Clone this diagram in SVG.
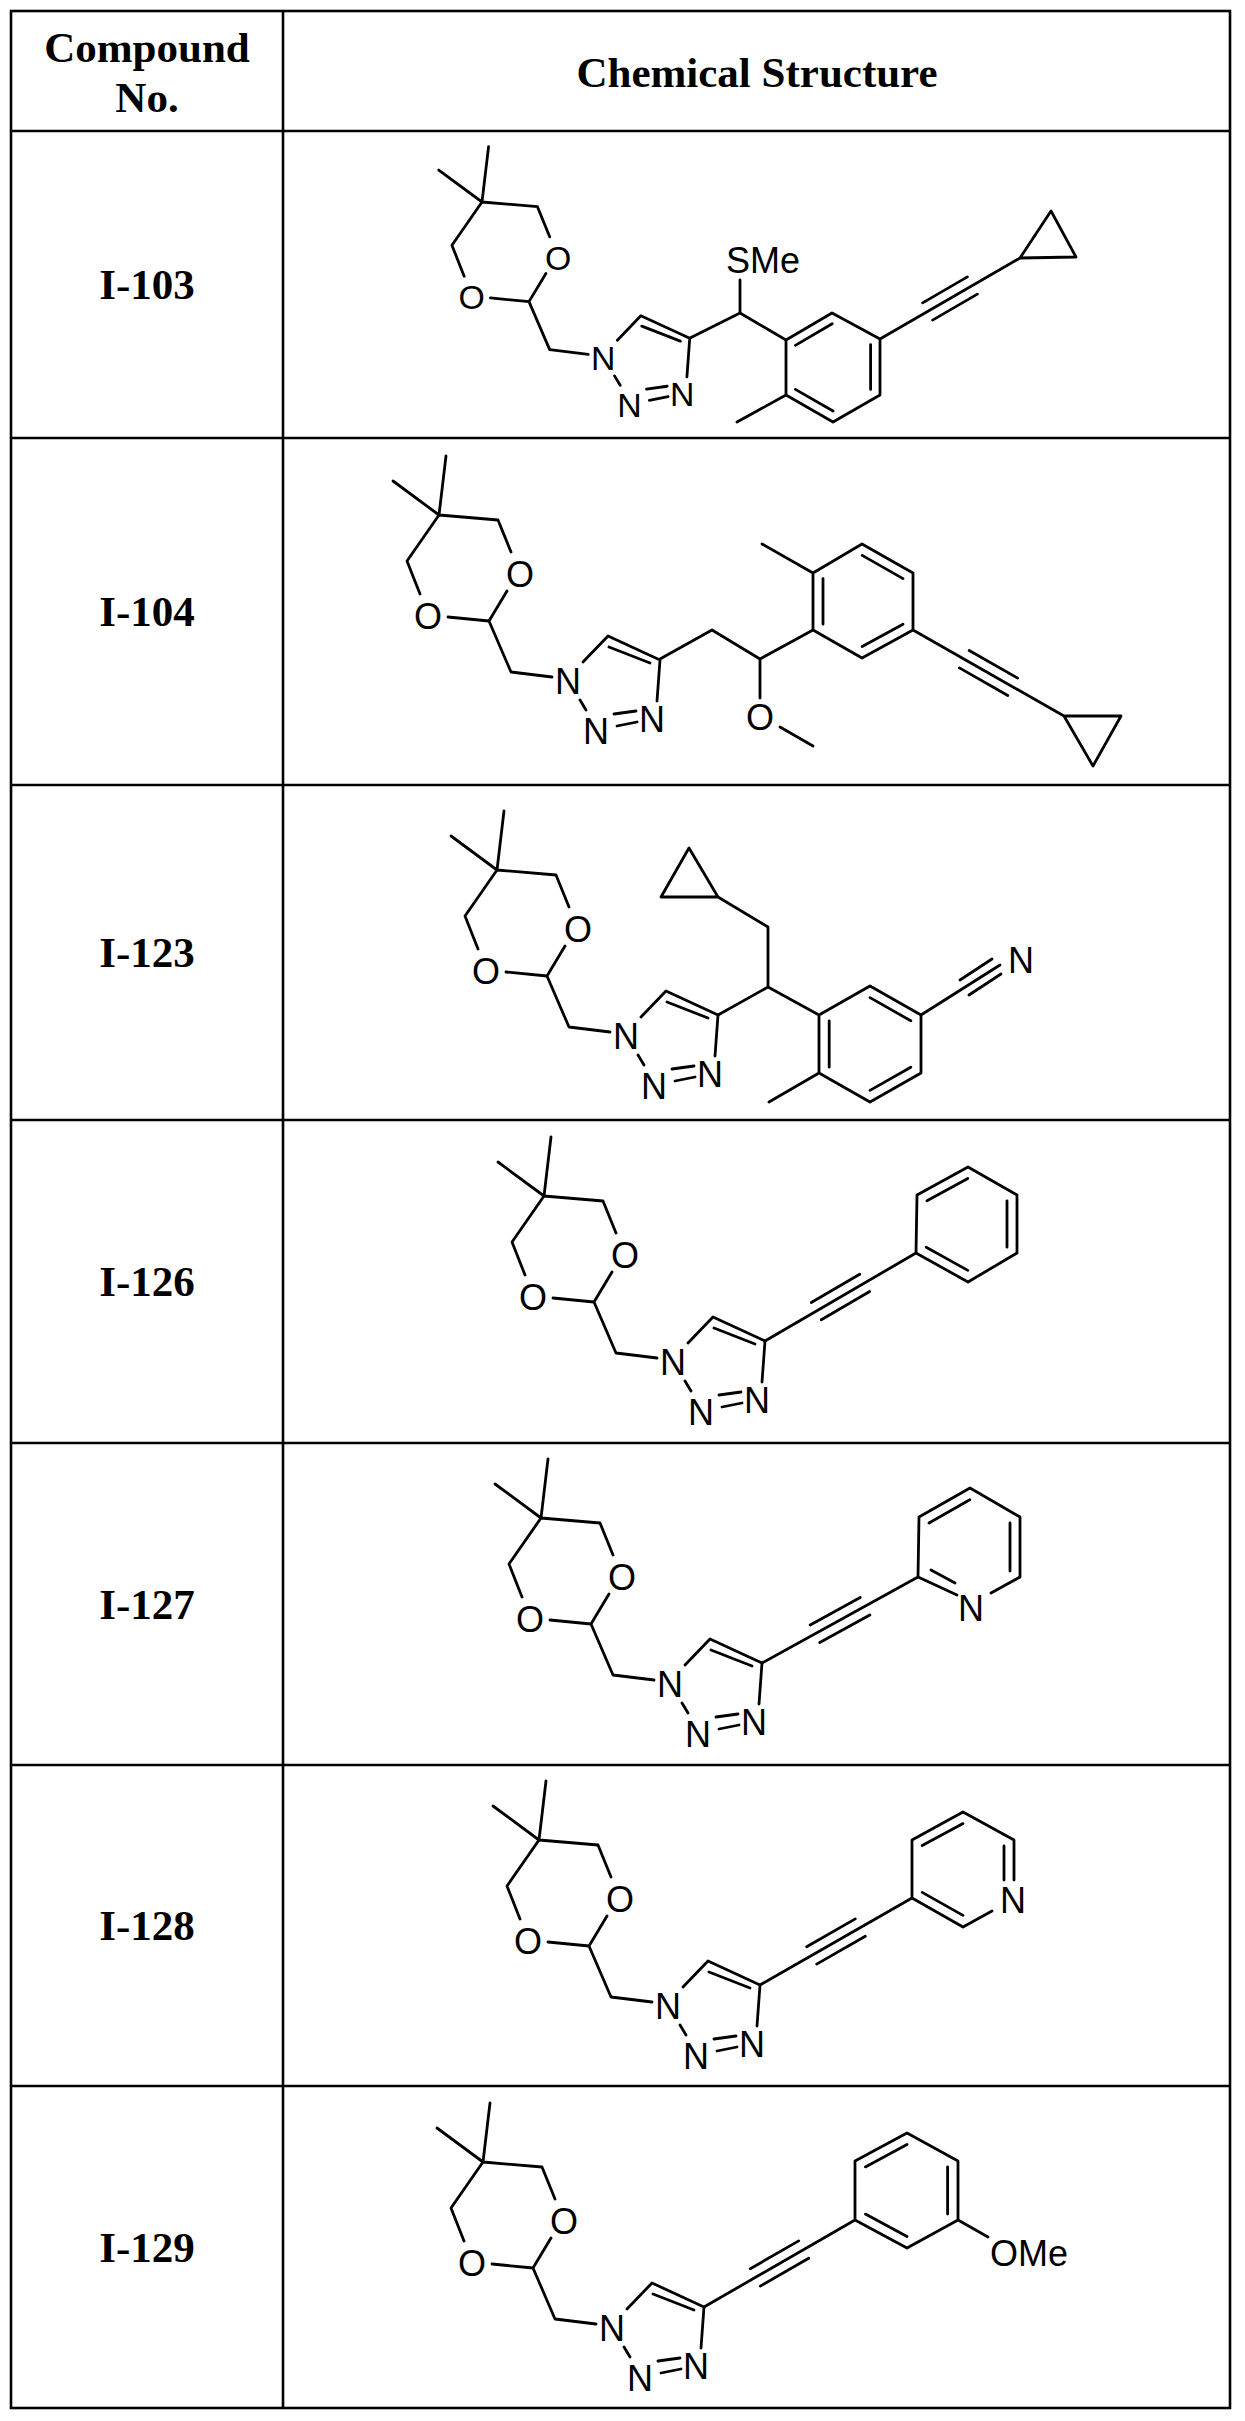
<svg xmlns="http://www.w3.org/2000/svg" width="1245" height="2421" viewBox="0 0 1245 2421">
<style>
.grid{stroke:#000;stroke-width:2.6;fill:none}
.b{stroke:#000;stroke-width:2.8;fill:none;stroke-linecap:round;stroke-linejoin:round;vector-effect:non-scaling-stroke}
.h{font-family:"Liberation Serif","Times New Roman",serif;font-weight:bold;font-size:43px;text-anchor:middle;fill:#000}
.a{font-family:"Liberation Sans",Arial,sans-serif;font-size:36px;text-anchor:middle;fill:#000}
</style>
<defs>
<g id="core">
<path class="b" d="M7,-59 L0,0 L-46,-34 M0,0 L59,5 L72,37 M68,76 L50,106 M0,0 L-32,46 L-19,79 M9,102 L50,106 L72,157 L113,162 M144,147 L169,121 L221,145 L218,186 M170,132 L211,148 M141,185 L147,195 M175,199 L197,196 M178,211 L198,207"/>
<text class="a" x="81" y="72">O</text>
<text class="a" x="-11" y="114">O</text>
<text class="a" x="129" y="179">N</text>
<text class="a" x="157" y="229">N</text>
<text class="a" x="213" y="217">N</text>
</g>
</defs>
<g id="table">
<rect class="grid" x="11" y="11" width="1219" height="2397"/>
<line class="grid" x1="283" y1="11" x2="283" y2="2408"/>
<path class="grid" d="M11,131H1230M11,438H1230M11,785H1230M11,1120H1230M11,1443H1230M11,1765H1230M11,2086H1230"/>
<text class="h" x="147" y="62">Compound</text>
<text class="h" x="147" y="112">No.</text>
<text class="h" x="757" y="87">Chemical Structure</text>
<text class="h" x="147" y="299">I-103</text>
<text class="h" x="147" y="626">I-104</text>
<text class="h" x="147" y="967">I-123</text>
<text class="h" x="147" y="1296">I-126</text>
<text class="h" x="147" y="1619">I-127</text>
<text class="h" x="147" y="1940">I-128</text>
<text class="h" x="147" y="2262">I-129</text>
</g>
<g id="I-103">
<use href="#core" transform="translate(482,202) scale(0.94)"/>
<path class="b" d="M690,338 L740,313 L740,280 M740,313 L786,340 M786,340 L832,313 L880,339 L880,395 L833,422 L786,395 Z M786,395 L737,422 M795.4,345.4 L832.2,323.8 M870.6,344.6 L870.6,389.4 M833,411 L795.4,389.4 M880,339 L1020,258 M922.6,302.9 L967.4,276.9 M932.6,320.1 L977.4,294.1 M1020,258 L1051,211 L1076,257 Z"/>
<text class="a" x="763" y="273">SMe</text>
</g>
<g id="I-104">
<use href="#core" transform="translate(439,515)"/>
<path class="b" d="M660,659 L712,630 L760,659 L760,698 M780,727 L813,746 M760,659 L813,630 M813,630 L813,573 L862,544 L913,573 L913,630 L862,658 Z M813,573 L762,544 M823,624.2 L823,578.6 M862.2,555.4 L903,578.6 M903,624.2 L862.2,646.6 M913,630 L1064,716 M969.2,650.5 L1017.6,678.1 M959.4,667.9 L1007.8,695.5 M1064,716 L1121,716 L1093,766 Z"/>
<text class="a" x="760" y="730">O</text>
</g>
<g id="I-123">
<use href="#core" transform="translate(497,870)"/>
<path class="b" d="M718,1015 L768,987 L768,927 L718,897 M718,897 L661,897 L689,848 Z M768,987 L819,1015 M819,1015 L870,986 L921,1015 L921,1073 L870,1102 L819,1073 Z M819,1073 L769,1102 M870,997.6 L910.8,1020.8 M829.2,1020.8 L829.2,1067.2 M910.8,1067.2 L870,1090.4 M921,1015 L1000,965 M960,980 L992,959 M969,995 L1001,974"/>
<text class="a" x="1021" y="973">N</text>
</g>
<g id="I-126">
<use href="#core" transform="translate(544,1196)"/>
<path class="b" d="M765,1341 L916,1253 M811.3,1302.5 L859.7,1274.3 M821.3,1319.7 L869.7,1291.5 M916,1253 L917,1195 L968,1167 L1017,1195 L1017,1253 L968,1282 Z M927,1200.8 L967.8,1178.4 M1007,1200.8 L1007,1247.2 M967.8,1270.4 L926.2,1247.2"/>
</g>
<g id="I-127">
<use href="#core" transform="translate(541,1518)"/>
<path class="b" d="M762,1663 L918,1577 M810.2,1625 L860.2,1597.4 M819.8,1642.6 L869.8,1615 M957,1595 L918,1577 L919,1517 L970,1488 L1020,1517 L1020,1577 L991,1593 M931,1570 L955,1583 M929,1523 L969.8,1499.8 M1010,1523 L1010,1571"/>
<text class="a" x="971" y="1621">N</text>
</g>
<g id="I-128">
<use href="#core" transform="translate(539,1840)"/>
<path class="b" d="M760,1985 L912,1898 M806.7,1946.7 L855.3,1918.9 M816.7,1964.1 L865.3,1936.3 M1014,1880 L1014,1840 L963,1812 L912,1840 L912,1898 L963,1927 L992,1911 M922.2,1845.6 L963,1823.6 M1004,1846 L1004,1880 M963,1915.4 L922.2,1892.4"/>
<text class="a" x="1013" y="1913">N</text>
</g>
<g id="I-129">
<use href="#core" transform="translate(483,2162)"/>
<path class="b" d="M704,2307 L855,2220 M750.3,2268.7 L798.7,2240.9 M760.3,2286.1 L808.7,2258.3 M855,2220 L855,2161 L907,2133 L958,2161 L958,2220 L907,2248 Z M865.4,2166.9 L907,2144.5 M947.6,2166.9 L947.6,2214.1 M907,2236.5 L865.4,2214.1 M958,2220 L988,2237"/>
<text class="a" x="990" y="2266" style="text-anchor:start">OMe</text>
</g>
</svg>
